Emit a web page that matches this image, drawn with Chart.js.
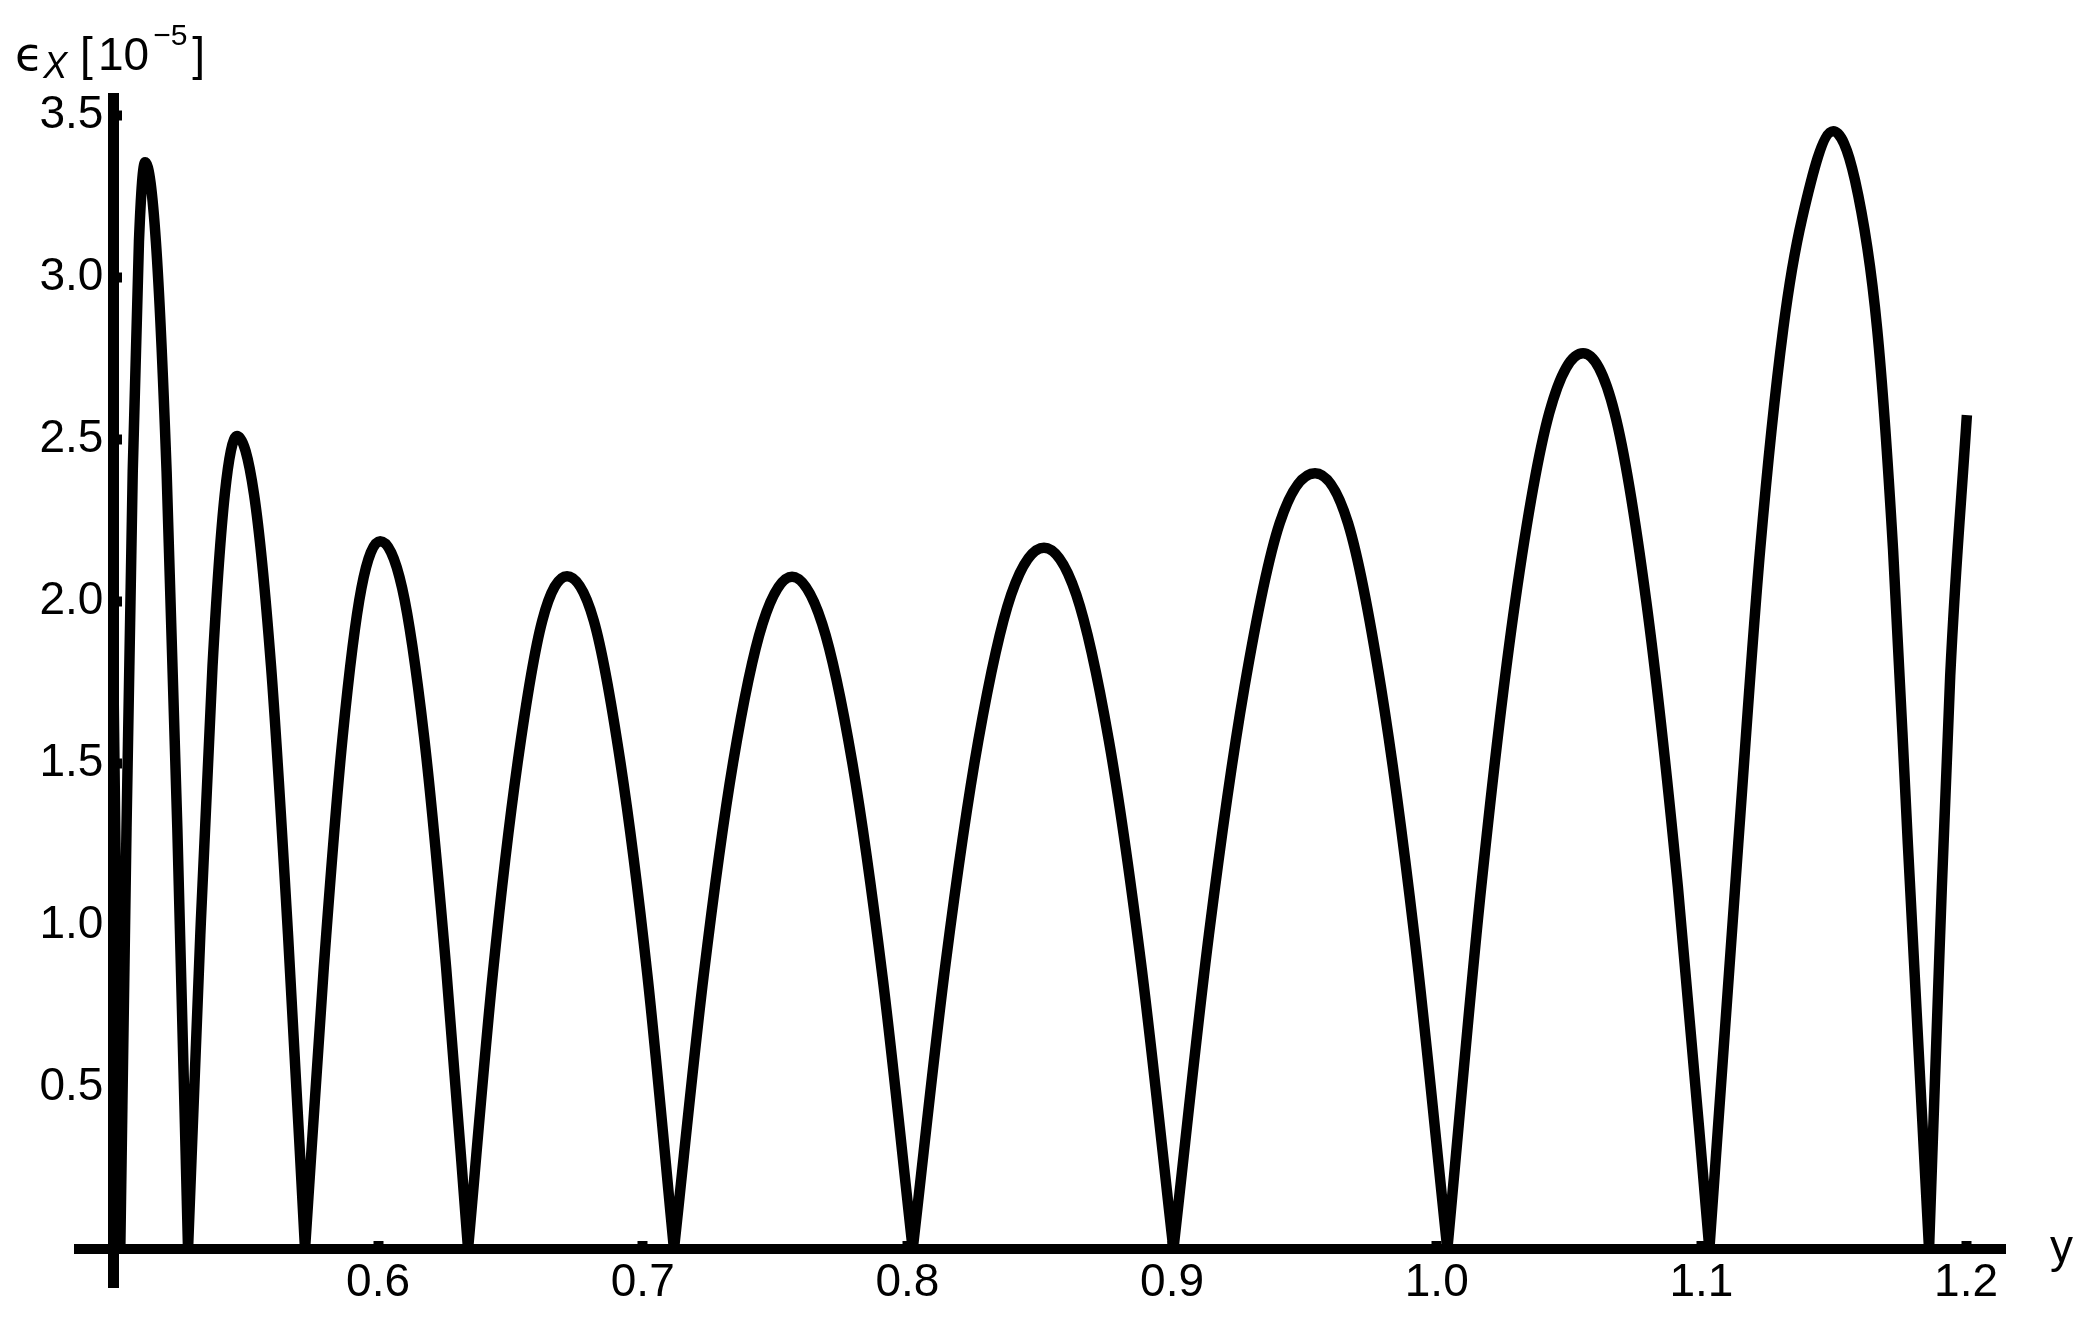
<!DOCTYPE html>
<html>
<head>
<meta charset="utf-8">
<script src="https://cdn.jsdelivr.net/npm/chart.js@4.4.1/dist/chart.umd.min.js"></script>
<style>
  html, body { margin:0; padding:0; background:#fff; }
  #wrap { width:2090px; height:1317px; }
</style>
</head>
<body>
<div id="wrap"><canvas id="c" width="2090" height="1317"></canvas></div>
<script>
// ── values (eps_X in units of 1e-5); null breaks the line between lobes
const xVals = [
  0.5000, 0.5013, 0.5026, 0.5026,
  0.5026, 0.50495, 0.5073, 0.50965, 0.5120, 0.51605, 0.5201, 0.52415, 0.5282, 0.5282,
  0.5282, 0.53283, 0.53745, 0.54208, 0.5467, 0.55313, 0.55955, 0.56598, 0.5724, 0.5724,
  0.5724, 0.5795, 0.5866, 0.5937, 0.6008, 0.6091, 0.6174, 0.6257, 0.6340, 0.6340,
  0.6340, 0.64335, 0.6527, 0.66205, 0.6714, 0.6815, 0.6916, 0.7017, 0.7118, 0.7118,
  0.7118, 0.72295, 0.7341, 0.74525, 0.7564, 0.7678, 0.7792, 0.7906, 0.8020, 0.8020,
  0.8020, 0.8144, 0.8268, 0.8392, 0.8516, 0.8638, 0.8761, 0.8883, 0.9005, 0.9005,
  0.9005, 0.9139, 0.92725, 0.94063, 0.9540, 0.9665, 0.9790, 0.9915, 1.0040, 1.0040,
  1.0040, 1.01683, 1.02965, 1.04248, 1.0553, 1.06723, 1.07915, 1.09108, 1.1030, 1.1030,
  1.1030, 1.1139, 1.1222, 1.1309, 1.1380, 1.1498, 1.1580, 1.1664, 1.1724, 1.1780, 1.1860, 1.1860,
  1.1860, 1.1900, 1.1940, 1.2003,
];
const yVals = [
  1.77, 0.89, 0, null,
  0, 1.30, 2.40, 3.11, 3.355, 3.11, 2.40, 1.30, 0, null,
  0, 0.97, 1.80, 2.33, 2.51, 2.33, 1.80, 0.97, 0, null,
  0, 0.87, 1.58, 2.04, 2.185, 2.04, 1.58, 0.87, 0, null,
  0, 0.85, 1.50, 1.94, 2.077, 1.94, 1.50, 0.85, 0, null,
  0, 0.84, 1.50, 1.93, 2.075, 1.93, 1.50, 0.84, 0, null,
  0, 0.88, 1.57, 2.02, 2.165, 2.02, 1.57, 0.88, 0, null,
  0, 0.97, 1.73, 2.24, 2.395, 2.24, 1.73, 0.97, 0, null,
  0, 1.12, 2.00, 2.58, 2.765, 2.58, 2.00, 1.12, 0, null,
  0, 1.25, 2.16, 2.84, 3.18, 3.45, 3.30, 2.84, 2.16, 1.25, 0, null,
  0, 0.93, 1.77, 2.574,
];
const xTicks = [0.6, 0.7, 0.8, 0.9, 1.0, 1.1, 1.2];
const yTicks = [0.5, 1.0, 1.5, 2.0, 2.5, 3.0, 3.5];

// plot range (axes cross at x = 0.5, y = 0)
const X_MIN = 0.487, X_MAX = 1.2147;
const Y_MIN = -0.117, Y_MAX = 3.553;
const Y_LABEL_AT = 0.4962;   // right edge of the y tick labels, just left of the axis

const FAMILY = "'Liberation Sans', Arial, Helvetica, sans-serif";
const TICK_FONT = { family: FAMILY, size: 46 };
Chart.defaults.font.family = FAMILY;
Chart.defaults.color = "#000";

const fmt = v => v.toFixed(1);

// ── axis captions: eps_X [10^-5] at top left, y at the right end of the x axis
const axisText = {
  id: "axisText",
  afterDraw(chart) {
    const ctx = chart.ctx;
    ctx.save();
    ctx.fillStyle = "#000";
    ctx.textBaseline = "alphabetic";
    const put = (txt, font, x, y) => { ctx.font = font; ctx.fillText(txt, x, y); return x + ctx.measureText(txt).width; };
    let x = put("\u03F5", `46px 'DejaVu Sans', ${FAMILY}`, 15, 70);
    x = put("X", `italic 36px ${FAMILY}`, Math.max(x, 37), 78);
    put("[", `46px ${FAMILY}`, 80, 70);
    x = put("10", `46px ${FAMILY}`, 98, 70);
    x = put("\u22125", `30px ${FAMILY}`, x + 4, 45);
    put("]", `46px ${FAMILY}`, x + 5, 70);
    put("y", `46px ${FAMILY}`, 2050, 1262);
    ctx.restore();
  }
};

new Chart(document.getElementById("c"), {
  type: "line",
  data: {
    datasets: [{
      data: xVals.map((x, i) => ({ x, y: yVals[i] })),
      borderColor: "#000", borderWidth: 10.5,
      pointRadius: 0, fill: false, spanGaps: false,
      cubicInterpolationMode: "monotone",
      borderCapStyle: "butt", borderJoinStyle: "round",
    }],
  },
  options: {
    responsive: false, animation: false, events: [],
    layout: { padding: { left: 79, right: 85, top: 98, bottom: 30 } },
    plugins: { legend: { display: false }, tooltip: { enabled: false } },
    scales: {
      x: {
        type: "linear", min: X_MIN, max: X_MAX, position: { y: 0 },
        afterBuildTicks: s => { s.ticks = xTicks.map(v => ({ value: v })); },
        border: { color: "#000", width: 10 },
        grid: { drawOnChartArea: false, tickLength: -13, tickWidth: 10, tickColor: "#000", lineWidth: 1 },
        ticks: { font: TICK_FONT, color: "#000", padding: 20, maxRotation: 0, autoSkip: false, callback: fmt },
      },
      y: {
        type: "linear", min: Y_MIN, max: Y_MAX, position: { x: 0.5 },
        afterBuildTicks: s => { s.ticks = yTicks.map(v => ({ value: v })); },
        border: { color: "#000", width: 11 },
        grid: { drawOnChartArea: false, tickLength: -14, tickWidth: 10, tickColor: "#000", lineWidth: 1 },
        ticks: { display: false },
      },
      yl: {
        type: "linear", axis: "y", min: Y_MIN, max: Y_MAX, position: { x: Y_LABEL_AT },
        afterBuildTicks: s => { s.ticks = yTicks.map(v => ({ value: v })); },
        border: { display: false },
        grid: { display: false },
        ticks: { font: TICK_FONT, color: "#000", padding: 0, autoSkip: false, callback: fmt },
      },
    },
  },
  plugins: [axisText],
});
</script>
</body>
</html>
